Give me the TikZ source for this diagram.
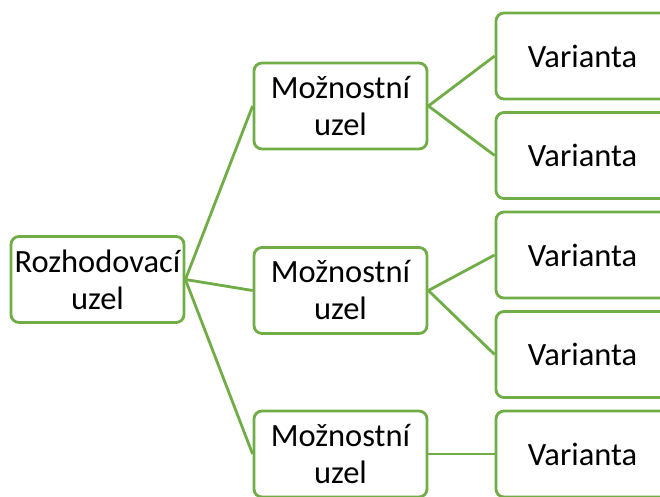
\documentclass[tikz,border=0pt]{standalone}
\usepackage{fontspec}
\setmainfont{Carlito}
\usepackage{xcolor}
\usepackage{tikz}
\usetikzlibrary{positioning}

\definecolor{uzelgreen}{HTML}{70AD47}

\tikzset{
	uzel/.style={draw=uzelgreen, line width=2.8pt, rounded corners=8pt, fill=white,
		minimum width=173pt, minimum height=86pt, align=center, inner sep=2pt,
		font=\fontsize{32.5}{37}\selectfont},
	vetev/.style={draw=uzelgreen, line width=2.8pt}
}

\begin{document}
\begin{tikzpicture}[x=1pt,y=-1pt]
		\useasboundingbox (0,0) rectangle (660,496);
		
		\node[uzel] (root) at (97.5,279.5) {Rozhodovac\'i\\uzel};
		
		\node[uzel] (m1) at (340.5,106) {Možnostní\\uzel};
		\node[uzel] (m2) at (340.5,290.5) {Možnostní\\uzel};
		\node[uzel] (m3) at (340.5,454) {Možnostní\\uzel};
		
		\node[uzel] (v1) at (582.5,56) {Varianta};
		\node[uzel] (v2) at (582.5,155.5) {Varianta};
		\node[uzel] (v3) at (582.5,255) {Varianta};
		\node[uzel] (v4) at (582.5,354.5) {Varianta};
		\node[uzel] (v5) at (582.5,454) {Varianta};
		
		\draw[vetev] (root.east) -- (m1.west);
		\draw[vetev] (root.east) -- (m2.west);
		\draw[vetev] (root.east) -- (m3.west);
		
		\draw[vetev] (m1.east) -- (v1.west);
		\draw[vetev] (m1.east) -- (v2.west);
		\draw[vetev] (m2.east) -- (v3.west);
		\draw[vetev] (m2.east) -- (v4.west);
		\draw[vetev] (m3.east) -- (v5.west);
		\end{tikzpicture}
\end{document}
